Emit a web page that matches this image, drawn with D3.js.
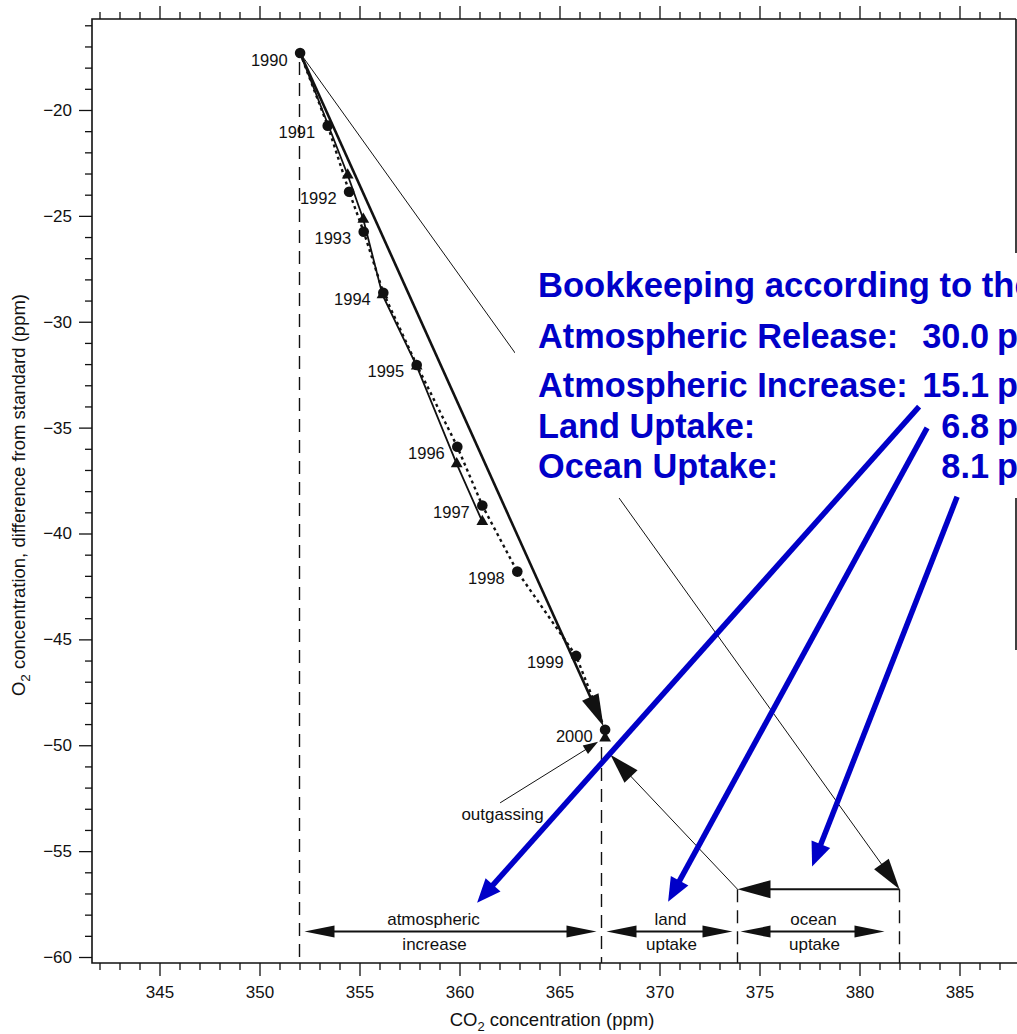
<!DOCTYPE html>
<html>
<head>
<meta charset="utf-8">
<script src="https://cdn.jsdelivr.net/npm/d3@7"></script>
<style>
  body { margin: 0; background: #fff; }
  svg { display: block; font-family: "Liberation Sans", Arial, Helvetica, sans-serif; }
</style>
</head>
<body>
<svg id="chart" width="1017" height="1034"></svg>
<script>
// Annual mean O2 / CO2 pairs, circle record
const circleYears = [1990, 1991, 1992, 1993, 1994, 1995, 1996, 1997, 1998, 1999, 2000];
const circleCO2   = [352.03, 353.41, 354.48, 355.21, 356.19, 357.86, 359.89, 361.14, 362.89, 365.83, 367.28];
const circleO2    = [-17.31, -20.74, -23.86, -25.75, -28.63, -32.04, -35.90, -38.68, -41.80, -45.78, -49.27];

// Annual mean O2 / CO2 pairs, triangle record
const triangleYears = [1992, 1993, 1994, 1995, 1996, 1997, 2000];
const triangleCO2   = [354.41, 355.19, 356.15, 357.86, 359.86, 361.14, 367.28];
const triangleO2    = [-23.07, -25.16, -28.73, -32.10, -36.71, -39.44, -49.66];

// Budget (ppm CO2)
const budgetLabels = ["Atmospheric Release:", "Atmospheric Increase:", "Land Uptake:", "Ocean Uptake:"];
const budgetValues = [30.0, 15.1, 6.8, 8.1];
const budgetTitle = "Bookkeeping according to the";

// Vector diagram anchors
const startCO2 = 352.0;
const fossilEndO2 = -56.8;
const landEndO2 = -50.0;
const bracketO2 = -58.8;

// Axis ticks
const xMajorTicks = [345, 350, 355, 360, 365, 370, 375, 380, 385];
const yMajorTicks = [-20, -25, -30, -35, -40, -45, -50, -55, -60];

(function draw() {
  const svg = d3.select("#chart");
  const W = 1017, H = 1034;
  svg.append("rect").attr("width", W).attr("height", H).attr("fill", "#fff");

  const x = d3.scaleLinear().domain([341.625, 387.825]).range([92, 1016]);
  const y = d3.scaleLinear().domain([-60.2833, -15.703]).range([963, 19]);

  const pL = 92, pR = 1016, pT = 19, pB = 963;
  const ink = "#111";
  const fs = 17;

  // ---------- axes ----------
  const xMinor = d3.range(342, 388).filter(v => v % 5 !== 0);
  const yMinor = d3.range(-60, -15).filter(v => v % 5 !== 0);

  function styleAxis(g) {
    g.select(".domain").remove();
    g.selectAll("line").attr("stroke", ink).attr("stroke-width", 1.3);
    g.selectAll("text").attr("fill", ink).attr("font-size", fs)
      .attr("font-family", '"Liberation Sans", Arial, sans-serif');
  }

  svg.append("g").attr("transform", `translate(0,${pB})`)
    .call(d3.axisBottom(x).tickValues(xMajorTicks).tickSize(13).tickPadding(10).tickFormat(d3.format("d")))
    .call(styleAxis);
  svg.append("g").attr("transform", `translate(0,${pB})`)
    .call(d3.axisBottom(x).tickValues(xMinor).tickSize(7).tickFormat(""))
    .call(styleAxis);
  svg.append("g").attr("transform", `translate(0,${pT})`)
    .call(d3.axisTop(x).tickValues(xMajorTicks).tickSize(13).tickFormat(""))
    .call(styleAxis);
  svg.append("g").attr("transform", `translate(0,${pT})`)
    .call(d3.axisTop(x).tickValues(xMinor).tickSize(7).tickFormat(""))
    .call(styleAxis);
  svg.append("g").attr("transform", `translate(${pL},0)`)
    .call(d3.axisLeft(y).tickValues(yMajorTicks).tickSize(13).tickPadding(7)
      .tickFormat(d => "\u2212" + Math.abs(d)))
    .call(styleAxis);
  svg.append("g").attr("transform", `translate(${pL},0)`)
    .call(d3.axisLeft(y).tickValues(yMinor).tickSize(7).tickFormat(""))
    .call(styleAxis);

  // frame
  const frame = svg.append("g").attr("stroke", ink).attr("stroke-width", 1.6).attr("fill", "none");
  frame.append("path").attr("d", `M${pR},${pT}H${pL}V${pB}H${W}`);
  frame.append("path").attr("d", `M${pR},${pT}V253M${pR},498V650`);

  // axis titles
  const xt = svg.append("text").attr("x", (pL + pR) / 2 - 2).attr("y", 1026)
    .attr("text-anchor", "middle").attr("font-size", 18.5).attr("fill", ink);
  xt.append("tspan").text("CO");
  xt.append("tspan").attr("font-size", 13).attr("dy", 5).text("2");
  xt.append("tspan").attr("dy", -5).text(" concentration (ppm)");

  const yt = svg.append("text").attr("transform", `translate(25,495) rotate(-90)`)
    .attr("text-anchor", "middle").attr("font-size", 18.5).attr("fill", ink);
  yt.append("tspan").text("O");
  yt.append("tspan").attr("font-size", 13.5).attr("dy", 5).text("2");
  yt.append("tspan").attr("dy", -5).text(" concentration, difference from standard (ppm)");

  // ---------- helpers ----------
  function head(g, from, to, len, hw, color) {
    const dx = to[0] - from[0], dy = to[1] - from[1];
    const L = Math.hypot(dx, dy), ux = dx / L, uy = dy / L;
    const bx = to[0] - ux * len, by = to[1] - uy * len;
    const px = -uy * hw, py = ux * hw;
    g.append("path")
      .attr("d", `M${to[0]},${to[1]}L${bx + px},${by + py}L${bx - px},${by - py}Z`)
      .attr("fill", color).attr("stroke", "none");
  }
  function arrow(g, from, to, opts) {
    const o = Object.assign({ width: 1, color: ink, len: 30, hw: 8, start: false }, opts);
    const dx = to[0] - from[0], dy = to[1] - from[1];
    const L = Math.hypot(dx, dy), ux = dx / L, uy = dy / L;
    const a = o.start ? [from[0] + ux * (o.len - 2), from[1] + uy * (o.len - 2)] : from;
    const b = [to[0] - ux * (o.len - 2), to[1] - uy * (o.len - 2)];
    g.append("line").attr("x1", a[0]).attr("y1", a[1]).attr("x2", b[0]).attr("y2", b[1])
      .attr("stroke", o.color).attr("stroke-width", o.width);
    head(g, from, to, o.len, o.hw, o.color);
    if (o.start) head(g, to, from, o.len, o.hw, o.color);
  }
  function shorten(from, to, d) {
    const dx = to[0] - from[0], dy = to[1] - from[1];
    const L = Math.hypot(dx, dy);
    return [to[0] - dx / L * d, to[1] - dy / L * d];
  }
  const P = (c, o) => [x(c), y(o)];

  // ---------- budget geometry ----------
  const startO2 = circleO2[0];
  const releaseEnd = [startCO2 + budgetValues[0], fossilEndO2];
  const oceanEnd = [releaseEnd[0] - budgetValues[3], fossilEndO2];
  const landEnd = [oceanEnd[0] - budgetValues[2], landEndO2];
  const increaseEnd = startCO2 + budgetValues[1];

  const ann = svg.append("g");

  // dashed reference verticals
  const dash = ann.append("g").attr("stroke", ink).attr("stroke-width", 1.4)
    .attr("stroke-dasharray", "13,8").attr("fill", "none");
  dash.append("line").attr("x1", x(startCO2)).attr("x2", x(startCO2))
    .attr("y1", y(startO2) + 9).attr("y2", pB);
  dash.append("line").attr("x1", x(increaseEnd)).attr("x2", x(increaseEnd))
    .attr("y1", y(triangleO2[triangleO2.length - 1]) + 9).attr("y2", pB);
  [oceanEnd[0], releaseEnd[0]].forEach(v => {
    dash.append("line").attr("x1", x(v)).attr("x2", x(v))
      .attr("y1", y(fossilEndO2)).attr("y2", pB);
  });

  // fossil fuel release line (thin) from the 1990 point
  arrow(ann, P(circleCO2[0], startO2), P(...releaseEnd), { width: 1, len: 31, hw: 9 });
  // ocean uptake (horizontal)
  arrow(ann, P(...releaseEnd), P(...oceanEnd), { width: 2, len: 33, hw: 9 });
  // land uptake
  arrow(ann, P(...oceanEnd), shorten(P(...oceanEnd), P(...landEnd), 13), { width: 1, len: 30, hw: 9 });

  // bottom brackets
  const by = y(bracketO2);
  arrow(ann, [x(startCO2) + 5, by], [x(increaseEnd) - 5, by], { width: 2, len: 30, hw: 6, start: true });
  arrow(ann, [x(increaseEnd) + 5, by], [x(oceanEnd[0]) - 5, by], { width: 2, len: 30, hw: 6, start: true });
  arrow(ann, [x(oceanEnd[0]) + 3, by], [x(releaseEnd[0]) - 15, by], { width: 2, len: 30, hw: 6, start: true });

  const lab = ann.append("g").attr("font-size", fs).attr("fill", ink).attr("text-anchor", "middle");
  const bracketText = [
    ["atmospheric", "increase", x(startCO2) + 134],
    ["land", "uptake", (x(increaseEnd) + x(oceanEnd[0])) / 2 + 1],
    ["ocean", "uptake", (x(oceanEnd[0]) + x(releaseEnd[0])) / 2 - 5]
  ];
  bracketText.forEach(([a, b, cx]) => {
    lab.append("text").attr("x", cx).attr("y", by - 7).text(a);
    lab.append("text").attr("x", cx + 1).attr("y", by + 18).text(b);
  });

  // outgassing pointer
  arrow(ann, P(362.03, -52.72), P(366.93, -49.84), { width: 1, len: 15, hw: 5 });
  lab.append("text").attr("x", x(362.15)).attr("y", y(-52.72) + 17).text("outgassing");

  // ---------- data ----------
  const circles = circleYears.map((yr, i) => ({ yr, c: circleCO2[i], o: circleO2[i] }));
  const tris = triangleYears.map((yr, i) => ({ yr, c: triangleCO2[i], o: triangleO2[i] }));

  // triangle record line (1990 start through 1997)
  const triPath = [{ c: circleCO2[0], o: circleO2[0] }].concat(tris.filter(d => d.yr <= 1997));
  svg.append("path").datum(triPath)
    .attr("d", d3.line().x(d => x(d.c)).y(d => y(d.o)))
    .attr("fill", "none").attr("stroke", ink).attr("stroke-width", 1.8);

  // circle record line (dotted)
  svg.append("path").datum(circles)
    .attr("d", d3.line().x(d => x(d.c)).y(d => y(d.o)))
    .attr("fill", "none").attr("stroke", ink).attr("stroke-width", 2.4)
    .attr("stroke-dasharray", "3,3.5");

  // straight 1990 -> 2000 vector
  const first = P(circleCO2[0], circleO2[0]);
  const last = P(circleCO2[circleCO2.length - 1], circleO2[circleO2.length - 1]);
  arrow(svg, first, shorten(first, last, 4), { width: 2.6, len: 32, hw: 9 });

  // markers
  svg.append("g").selectAll("path").data(tris).join("path")
    .attr("d", d3.symbol(d3.symbolTriangle, 60))
    .attr("transform", d => `translate(${x(d.c)},${y(d.o)})`)
    .attr("fill", ink);
  svg.append("g").selectAll("circle").data(circles).join("circle")
    .attr("cx", d => x(d.c)).attr("cy", d => y(d.o)).attr("r", 5.3)
    .attr("fill", ink);

  // year labels
  svg.append("g").attr("font-size", 16.5).attr("fill", ink).attr("text-anchor", "end")
    .selectAll("text").data(circles).join("text")
    .attr("x", d => x(d.c) - 12.5).attr("y", d => y(d.o) + 12.5)
    .text(d => d.yr);

  // ---------- bookkeeping box ----------
  const blue = "#0000c8";
  svg.append("rect").attr("x", 515).attr("y", 253).attr("width", W - 515).attr("height", 245)
    .attr("fill", "#fff");
  const tb = svg.append("g").attr("font-size", 34.3).attr("font-weight", "bold").attr("fill", blue);
  tb.append("text").attr("x", 538).attr("y", 297).attr("font-size", 34.6).text(budgetTitle);
  const rowY = [348, 397, 438, 478];
  budgetLabels.forEach((t, i) => {
    tb.append("text").attr("x", 538).attr("y", rowY[i]).text(t);
    tb.append("text").attr("x", 989).attr("y", rowY[i]).attr("text-anchor", "end")
      .text(budgetValues[i].toFixed(1));
    tb.append("text").attr("x", 997).attr("y", rowY[i]).text("ppm");
  });

  // blue pointers from the budget values to the brackets
  const bl = svg.append("g");
  arrow(bl, P(382.98, -34.01), P(360.88, -57.44), { width: 5.5, color: blue, len: 24, hw: 10 });
  arrow(bl, P(383.38, -35.01), P(370.43, -57.39), { width: 5.5, color: blue, len: 24, hw: 10 });
  arrow(bl, P(384.88, -38.27), P(377.63, -55.73), { width: 5.5, color: blue, len: 24, hw: 10 });
})();
</script>
</body>
</html>
